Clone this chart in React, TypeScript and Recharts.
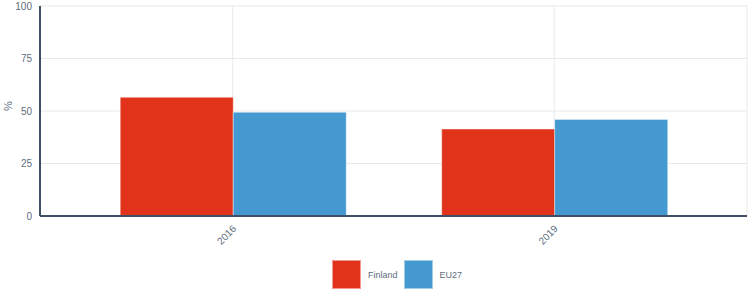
import React from 'react';
import { BarChart, Bar, XAxis, YAxis, CartesianGrid } from 'recharts';

const years = ['2016', '2019'];
const finland = [56.5, 41.4];
const eu27 = [49.4, 46.0];
const yTicks = [0, 25, 50, 75, 100];

const series = [
  { key: 'Finland', color: '#e1331a' },
  { key: 'EU27', color: '#4499d1' },
];

const data = years.map((y, i) => ({ year: y, Finland: finland[i], EU27: eu27[i] }));

const axisColor = '#3f5166';
const textColor = '#5e6d7e';

const LegendBox = () => (
  <div style={{ position: 'absolute', left: 332, top: 260, display: 'flex', alignItems: 'center', fontSize: 9, color: textColor }}>
    {series.map(s => (
      <div key={s.key} style={{ display: 'flex', alignItems: 'center', marginRight: 6 }}>
        <div style={{ width: 27, height: 27, background: s.color, border: '1px solid rgba(255,255,255,0.5)', marginRight: 7 }} />
        <span>{s.key}</span>
      </div>
    ))}
  </div>
);

const XTick = (props: any) => {
  const { x, y, payload } = props;
  return (
    <g transform={`translate(${x},${y + 4})`}>
      <text textAnchor="end" transform="rotate(-45)" fill={textColor} fontSize={10} dy={4} dx={2}>
        {payload.value}
      </text>
    </g>
  );
};

export default function App() {
  return (
    <div style={{ position: 'absolute', left: 0, top: 0, width: 753, height: 301, fontFamily: 'Helvetica, Arial, sans-serif' }}>
      <BarChart width={753} height={301} data={data} margin={{ top: 6, right: 6, bottom: 55, left: 0 }} barGap={0} barCategoryGap="15%">
        <CartesianGrid stroke="#e9e9e9" />
        <XAxis
          dataKey="year"
          height={30}
          padding={{ left: 32, right: 32 }}
          stroke={axisColor}
          strokeWidth={2}
          tickLine={false}
          tick={<XTick />}
          interval={0}
        />
        <YAxis
          domain={[0, 100]}
          ticks={yTicks}
          width={40}
          stroke={axisColor}
          strokeWidth={2}
          tickLine={false}
          tick={{ fill: textColor, fontSize: 10 }}
          label={{ value: '%', angle: -90, position: 'insideLeft', offset: 8, fill: textColor, fontSize: 11 }}
        />
        {series.map(s => (
          <Bar key={s.key} dataKey={s.key} fill={s.color} stroke="rgba(255,255,255,0.4)" isAnimationActive={false} />
        ))}
      </BarChart>
      <LegendBox />
    </div>
  );
}
